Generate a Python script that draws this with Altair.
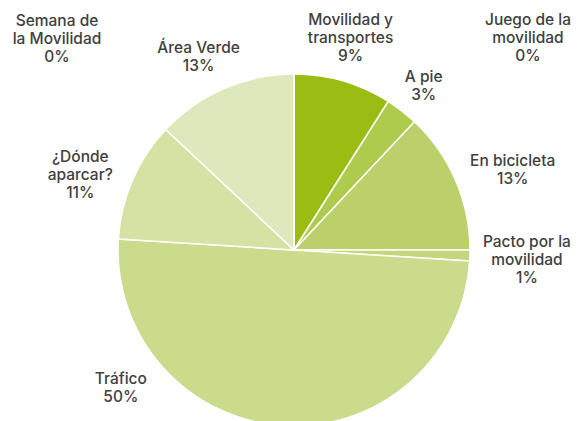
import altair as alt
import pandas as pd

# Data
categories = [
    "Movilidad y transportes", "A pie", "En bicicleta", "Pacto por la movilidad",
    "Tráfico", "¿Dónde aparcar?", "Área Verde", "Semana de la Movilidad",
    "Juego de la movilidad",
]
values = [9, 3, 13, 1, 50, 11, 13, 0, 0]
label_texts = [
    "Movilidad y\ntransportes\n9%", "A pie\n3%", "En bicicleta\n13%",
    "Pacto por la\nmovilidad\n1%", "Tráfico\n50%", "¿Dónde\naparcar?\n11%",
    "Área Verde\n13%", "Semana de\nla Movilidad\n0%", "Juego de la\nmovilidad\n0%",
]
colors = ["#9bbd13", "#afcb4e", "#bbd06b", "#c3d67c", "#cadb8c", "#d5e2a3",
          "#dde8bc", "#dde8bc", "#dde8bc"]

# Layout-only label nudges (pixels), applied on top of the polar label position
label_nudges = {
    "Movilidad y transportes": (-2, -28), "A pie": (1, -7), "En bicicleta": (26, -6),
    "Pacto por la movilidad": (23, -15), "Tráfico": (-160, -81),
    "¿Dónde aparcar?": (-21, -10), "Área Verde": (-12, -9),
    "Semana de la Movilidad": (-237, -19), "Juego de la movilidad": (234, -20),
}

df = pd.DataFrame({
    "category": categories,
    "value": values,
    "label": label_texts,
    "order": list(range(len(categories))),
})

theta_scale = alt.Scale(domain=[0, 100])

base = alt.Chart(df).transform_window(
    cum="sum(value)", sort=[alt.SortField("order")], frame=[None, 0]
).transform_calculate(
    start="datum.cum - datum.value",
    mid="datum.cum - datum.value / 2",
)

arcs = base.mark_arc(radius=176, stroke="white", strokeWidth=1.5).encode(
    theta=alt.Theta("start:Q", scale=theta_scale),
    theta2="cum:Q",
    color=alt.Color("category:N", scale=alt.Scale(domain=categories, range=colors), legend=None),
)

layers = [arcs]
for cat in categories:
    dx, dy = label_nudges[cat]
    layers.append(
        base.transform_filter(alt.datum.category == cat).mark_text(
            radius=210, dx=dx, dy=dy, lineBreak="\n", align="center", baseline="middle",
            font="Inter", fontSize=15.5, fontWeight=500, lineHeight=18, color="#404040",
        ).encode(
            theta=alt.Theta("mid:Q", scale=theta_scale),
            text="label:N",
        )
    )

chart = alt.layer(*layers).properties(
    width=558, height=342,
    padding={"left": 7, "top": 71, "right": 0, "bottom": 0},
    autosize=alt.AutoSizeParams(type="none"),
).configure_view(stroke=None)

chart.save("out.html", embed_options={"renderer": "svg", "actions": False})
